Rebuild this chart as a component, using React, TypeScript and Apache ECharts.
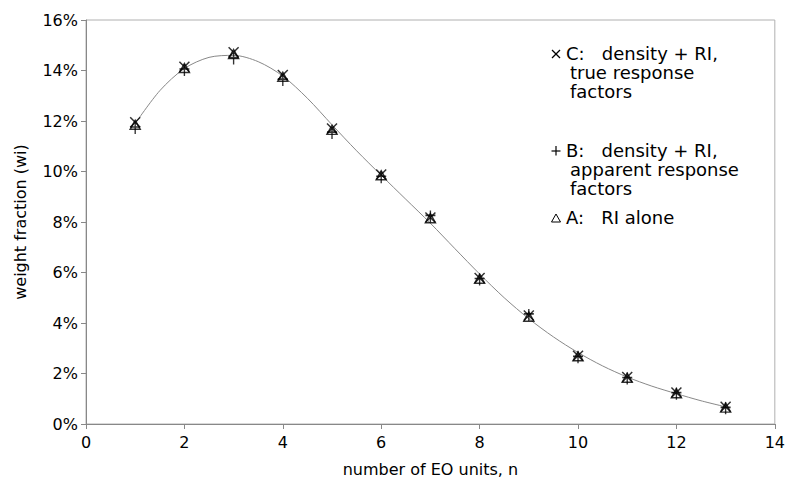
import React, { useEffect, useRef } from "react";
import * as echarts from "echarts";

const units = [1, 2, 3, 4, 5, 6, 7, 8, 9, 10, 11, 12, 13];
const seriesC = [11.95, 14.15, 14.72, 13.82, 11.7, 9.88, 8.18, 5.78, 4.3, 2.7, 1.86, 1.25, 0.68];
const seriesB = [11.8, 14.1, 14.55, 13.7, 11.6, 9.85, 8.3, 5.8, 4.4, 2.72, 1.88, 1.28, 0.7];
const seriesA = [11.85, 14.1, 14.65, 13.75, 11.65, 9.85, 8.15, 5.75, 4.25, 2.68, 1.83, 1.22, 0.65];
const fitX = [1, 1.5, 2, 2.5, 3, 3.5, 4, 4.5, 5, 5.5, 6, 6.5, 7, 7.5, 8, 8.5, 9, 9.5, 10, 10.5, 11, 11.5, 12, 12.5, 13];
const fitY = [11.9, 13.2, 14.08, 14.52, 14.6, 14.35, 13.78, 12.9, 11.85, 10.82, 9.85, 8.9, 7.95, 6.94, 5.94, 5.0, 4.17, 3.45, 2.83, 2.3, 1.86, 1.5, 1.2, 0.92, 0.68];
const legendLines = [
  ["C:   density + RI,", "true response", "factors"],
  ["B:   density + RI,", "apparent response", "factors"],
  ["A:   RI alone"],
];

const FONT = "'DejaVu Sans', 'Liberation Sans', Arial, sans-serif";
const SYM_X = "path://M0,0L10,10M10,0L0,10";
const SYM_PLUS = "path://M5,0L5,12M0,5L10,5";
const SYM_TRI = "path://M5,0L10,9L0,9Z";

export default function App() {
  const ref = useRef<HTMLDivElement>(null);
  useEffect(() => {
    if (!ref.current) return;
    const chart = echarts.init(ref.current, null, { renderer: "svg" });
    const markerStyle = { color: "none", borderColor: "#000", borderWidth: 1.5 };
    const legendX = 556;
    const legendY = [54, 151, 218];
    const lineH = 19;
    const graphics: any[] = [];
    legendLines.forEach((lines, i) => {
      lines.forEach((t, j) => {
        graphics.push({
          type: "text",
          x: j === 0 ? legendX + 10 : legendX + 14,
          y: legendY[i] - 10 + j * lineH,
          style: { text: t, font: `18px ${FONT}`, fill: "#000" },
        });
      });
    });
    const cy = (i: number) => legendY[i];
    graphics.push({
      type: "group",
      children: [
        { type: "line", shape: { x1: legendX - 4, y1: cy(0) - 4, x2: legendX + 4, y2: cy(0) + 4 }, style: { stroke: "#000", lineWidth: 1.2 } },
        { type: "line", shape: { x1: legendX + 4, y1: cy(0) - 4, x2: legendX - 4, y2: cy(0) + 4 }, style: { stroke: "#000", lineWidth: 1.2 } },
        { type: "line", shape: { x1: legendX - 4.5, y1: cy(1), x2: legendX + 4.5, y2: cy(1) }, style: { stroke: "#000", lineWidth: 1.2 } },
        { type: "line", shape: { x1: legendX, y1: cy(1) - 5, x2: legendX, y2: cy(1) + 4.5 }, style: { stroke: "#000", lineWidth: 1.2 } },
        { type: "polygon", shape: { points: [[legendX, cy(2) - 4], [legendX + 4.5, cy(2) + 4], [legendX - 4.5, cy(2) + 4]] }, style: { fill: "none", stroke: "#000", lineWidth: 1 } },
      ],
    });
    chart.setOption({
      animation: false,
      textStyle: { fontFamily: FONT },
      grid: { left: 86, right: 11, top: 20, bottom: 63, show: true, borderColor: "#b0b0b0", borderWidth: 1 },
      xAxis: {
        type: "value",
        min: 0,
        max: 14,
        interval: 2,
        name: "number of EO units, n",
        nameLocation: "middle",
        nameGap: 37,
        nameTextStyle: { fontSize: 16, color: "#000", fontFamily: FONT },
        axisLine: { show: true, lineStyle: { color: "#888", width: 1 } },
        axisTick: { show: true, length: 5, lineStyle: { color: "#888" } },
        axisLabel: { fontSize: 16, color: "#000", margin: 10, fontFamily: FONT },
        splitLine: { show: false },
      },
      yAxis: {
        type: "value",
        min: 0,
        max: 16,
        interval: 2,
        name: "weight fraction (wi)",
        nameLocation: "middle",
        nameGap: 58,
        nameTextStyle: { fontSize: 16, color: "#000", fontFamily: FONT },
        axisLine: { show: true, lineStyle: { color: "#888", width: 1 } },
        axisTick: { show: true, length: 5, lineStyle: { color: "#888" } },
        axisLabel: { fontSize: 16, color: "#000", margin: 8, formatter: (v: number) => `${v}%`, fontFamily: FONT },
        splitLine: { show: false },
      },
      series: [
        {
          type: "line",
          data: fitX.map((x, i) => [x, fitY[i]]),
          smooth: 0.3,
          showSymbol: false,
          lineStyle: { color: "#888", width: 1 },
          z: 1,
        },
        {
          type: "scatter",
          data: units.map((x, i) => [x, seriesA[i]]),
          symbol: SYM_TRI,
          symbolSize: [10, 9],
          itemStyle: markerStyle,
          z: 3,
        },
        {
          type: "scatter",
          data: units.map((x, i) => [x, seriesB[i]]),
          symbol: SYM_PLUS,
          symbolSize: [10, 12],
          symbolOffset: [0, 2],
          itemStyle: markerStyle,
          z: 3,
        },
        {
          type: "scatter",
          data: units.map((x, i) => [x, seriesC[i]]),
          symbol: SYM_X,
          symbolSize: 10,
          itemStyle: markerStyle,
          z: 3,
        },
      ],
      graphic: graphics,
    });
    return () => chart.dispose();
  }, []);
  return <div ref={ref} style={{ position: "fixed", left: 0, top: 0, width: 788, height: 487, background: "#fff" }} />;
}
